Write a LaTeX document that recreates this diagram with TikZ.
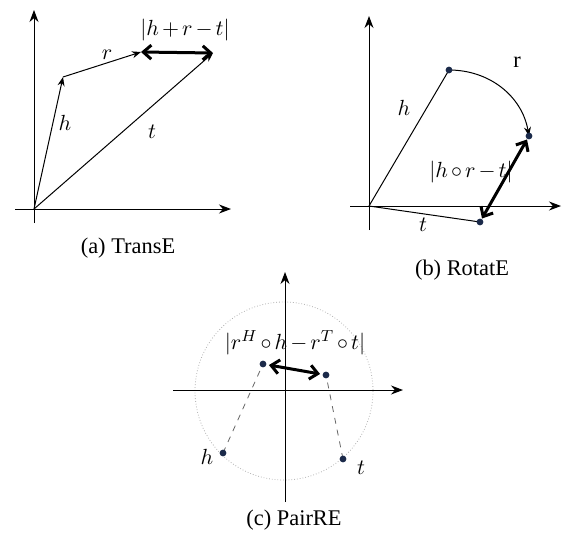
\documentclass[tikz,border=0pt]{standalone}
\usepackage{amsmath,amssymb}
\usepackage{fontspec}
\setmainfont{Liberation Serif}
\usepackage{tikz}
\usepackage{xcolor}
\usetikzlibrary{arrows.meta}

\definecolor{dotblue}{HTML}{1B2A4A}
\tikzset{
  every node/.style={font=\fontsize{11.2}{13}\selectfont},
  axis/.style={line width=0.5pt,-{Stealth[length=6pt,width=4.5pt]}},
  vec/.style={line width=0.5pt,-{Stealth[length=4.5pt,width=3.5pt]}},
  gap/.style={line width=1.5pt,{Straight Barb[length=4pt,width=7pt]}-{Straight Barb[length=4pt,width=7pt]}},
  dot/.style={circle,fill=dotblue,inner sep=0pt,minimum size=3.4pt},
  lbl/.style={inner sep=1pt},
}

\begin{document}
\begin{tikzpicture}[x=0.5pt, y=-0.5pt]
\useasboundingbox (0,0) rectangle (562,541);
\medmuskip=2.5mu
% (a) TransE
\coordinate (oa) at (34,209);
\coordinate (ha) at (63,77);
\coordinate (ra) at (141,52);
\coordinate (ta) at (213,53);
\draw[axis] (34,223) -- (34,10);
\draw[axis] (15,209) -- (231,209);
\draw[vec] (oa) -- (ha);
\draw[vec] (ha) -- (ra);
\draw[vec] (oa) -- (ta);
\draw[gap] (ra) -- (ta);
\node[lbl] (la-h) at (65,123) {$h$};
\node[lbl] (la-r) at (107,55) {$r$};
\node[lbl] (la-t) at (152,132) {$t$};
\node[lbl] (la-d) at (185,30) {$\lvert h+r-t\rvert$};
\node (cap-a) at (128,248) {(a) TransE};
% (b) RotatE
\coordinate (ob) at (369,206);
\coordinate (hb) at (449,70);
\coordinate (rb) at (529,136);
\coordinate (tb) at (480,222);
\draw[axis] (369,230) -- (369,16);
\draw[axis] (350,206) -- (561,206);
\draw[line width=0.5pt] (ob) -- (hb);
\draw[line width=0.5pt] (ob) -- (tb);
\draw[vec] (hb) to[out=0,in=100] (rb);
\draw[gap,shorten <=2pt,shorten >=2pt] (tb) -- (rb);
\node[dot] at (hb) {};
\node[dot] at (rb) {};
\node[dot] at (tb) {};
\node[lbl] (lb-r) at (517,62) {r};
\node[lbl] (lb-h) at (404,108) {$h$};
\node[lbl] (lb-d) at (471,172) {$\lvert h\circ r-t\rvert$};
\node[lbl] (lb-t) at (423,225) {$t$};
\node (cap-b) at (462,270) {(b) RotatE};
% (c) PairRE
\coordinate (oc) at (284,391);
\coordinate (pc1) at (263,364);
\coordinate (pc2) at (326,375);
\coordinate (hc) at (223,453);
\coordinate (tc) at (343,459);
\draw[gray!60,densely dotted,line width=0.4pt] (oc) circle (89);
\draw[axis] (285,502) -- (285,272);
\draw[axis] (173,390) -- (403,390);
\draw[gray!80!black,dashed,line width=0.4pt] (hc) -- (pc1);
\draw[gray!80!black,dashed,line width=0.4pt] (tc) -- (pc2);
\draw[gap,shorten <=3pt,shorten >=3pt] (pc1) -- (pc2);
\node[dot] at (pc1) {};
\node[dot] at (pc2) {};
\node[dot] at (hc) {};
\node[dot] at (tc) {};
\node[lbl] (lc-d) at (295,343) {$\lvert r^{H}\circ h-r^{T}\circ t\rvert$};
\node[lbl] (lc-h) at (207,457) {$h$};
\node[lbl] (lc-t) at (361,468) {$t$};
\node (cap-c) at (294,520) {(c) PairRE};
\end{tikzpicture}
\end{document}
